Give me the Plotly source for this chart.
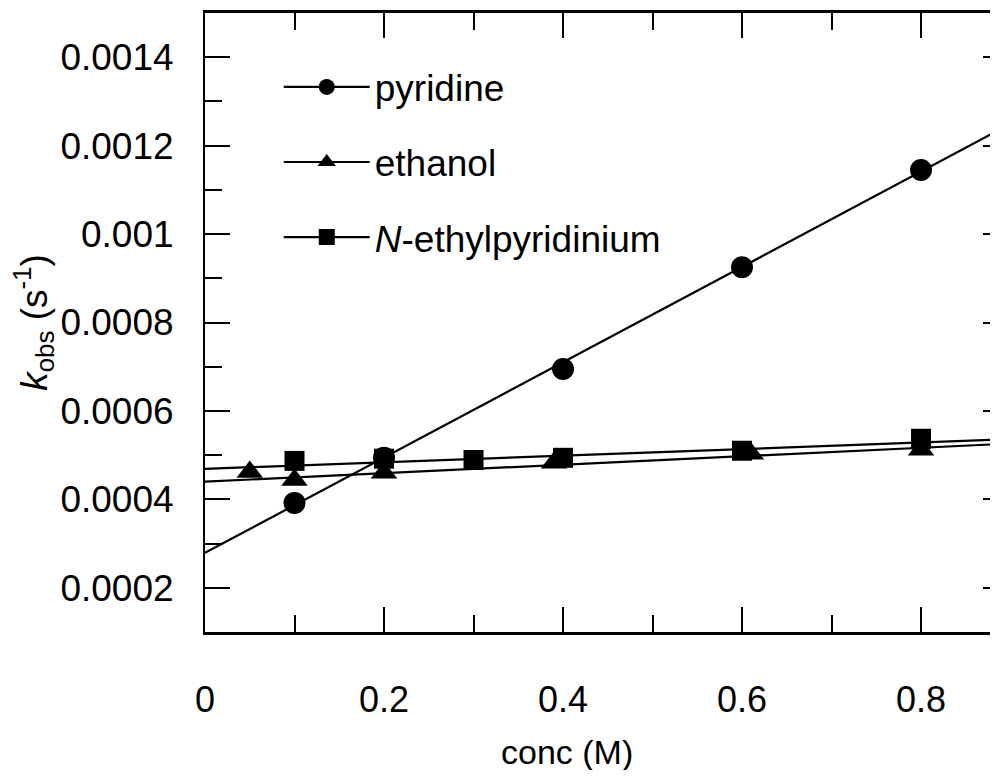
import plotly.graph_objects as go

# ---- data ----
pyr_x = [0.1, 0.2, 0.4, 0.6, 0.8]
pyr_y = [0.000392, 0.000494, 0.000695, 0.000925, 0.001145]

eth_x = [0.05, 0.1, 0.2, 0.39, 0.61, 0.8]
eth_y = [0.000462, 0.000444, 0.000460, 0.000483, 0.000503, 0.000512]

nep_x = [0.1, 0.2, 0.3, 0.4, 0.6, 0.8]
nep_y = [0.000487, 0.000492, 0.000489, 0.000494, 0.000510, 0.000537]

# linear fits (intercept, slope)
fit_intercept = {"pyridine": 0.000279, "ethanol": 0.000440, "nep": 0.000469}
fit_slope = {"pyridine": 0.001078, "ethanol": 0.0000959, "nep": 0.0000745}
fit_x = [0.0, 0.9]

series_names = ["pyridine", "ethanol", "<i>N</i>-ethylpyridinium"]
series_keys = ["pyridine", "ethanol", "nep"]

x_ticks = [0, 0.2, 0.4, 0.6, 0.8]
x_ticklabels = ["0", "0.2", "0.4", "0.6", "0.8"]
y_ticks = [0.0002, 0.0004, 0.0006, 0.0008, 0.001, 0.0012, 0.0014]
y_ticklabels = ["0.0002", "0.0004", "0.0006", "0.0008", "0.001", "0.0012", "0.0014"]

FONT = "Liberation Sans, Arial, sans-serif"

fig = go.Figure()

series = [
    (pyr_x, pyr_y, "circle", 22),
    (eth_x, eth_y, "triangle-up", 23),
    (nep_x, nep_y, "square", 20),
]

for name, key, (xs, ys, symbol, size) in zip(series_names, series_keys, series):
    b = fit_intercept[key]
    m = fit_slope[key]
    # fit line
    fig.add_trace(go.Scatter(
        x=fit_x, y=[b + m * v for v in fit_x], mode="lines",
        line=dict(color="black", width=2.2), showlegend=False,
        hoverinfo="skip", legendgroup=key))
    # data points
    fig.add_trace(go.Scatter(
        x=xs, y=ys, mode="markers", name=name, legendgroup=key,
        showlegend=False,
        marker=dict(symbol=symbol, size=size, color="black")))
    # legend entry (line + marker)
    fig.add_trace(go.Scatter(
        x=[None], y=[None], mode="lines+markers", name=name, legendgroup=key,
        line=dict(color="black", width=2.2),
        marker=dict(symbol=symbol, size=size, color="black")))

# page body has an 8px margin; size the figure so the page does not scroll
fig.update_layout(
    width=990, height=762,
    margin=dict(l=197, r=0, t=5, b=138),
    paper_bgcolor="white", plot_bgcolor="white",
    font=dict(family=FONT, color="black", size=37),
    showlegend=True,
    legend=dict(x=0.093, y=0.93, xanchor="left", yanchor="top",
                bgcolor="rgba(0,0,0,0)", font=dict(size=37, family=FONT),
                tracegroupgap=24, itemwidth=86),
    xaxis=dict(range=[0, 0.886], tickvals=x_ticks, ticktext=x_ticklabels,
               ticks="inside", ticklen=25, tickwidth=2, tickcolor="black",
               minor=dict(dtick=0.1, tick0=0, ticks="inside", ticklen=17,
                          tickwidth=2, tickcolor="black"),
               showline=True, linewidth=2.5, linecolor="black", mirror="ticks",
               showgrid=False, zeroline=False, automargin=False,
               ticklabelstandoff=34,
               tickfont=dict(size=36, family=FONT)),
    yaxis=dict(range=[0.0001, 0.0015], tickvals=y_ticks, ticktext=y_ticklabels,
               ticks="inside", ticklen=25, tickwidth=2, tickcolor="black",
               minor=dict(dtick=0.0001, tick0=0, ticks="inside", ticklen=17,
                          tickwidth=2, tickcolor="black"),
               showline=True, linewidth=2, linecolor="black", mirror=False,
               showgrid=False, zeroline=False, automargin=False,
               ticklabelstandoff=22,
               tickfont=dict(size=37, family=FONT),
               title=dict(text="<i>k</i><sub>obs</sub> (s<sup>-1</sup>)",
                          font=dict(size=37, family=FONT), standoff=10)),
    yaxis2=dict(range=[0.0001, 0.0015], overlaying="y", side="right",
                tickvals=y_ticks, showticklabels=False,
                ticks="inside", ticklen=15, tickwidth=2, tickcolor="black",
                minor=dict(dtick=0.0001, tick0=0, ticks="inside", ticklen=6,
                           tickwidth=2, tickcolor="black"),
                showline=False, showgrid=False, zeroline=False, automargin=False),
    annotations=[dict(text="conc (M)", xref="paper", yref="paper",
                      x=0.456, y=-0.194, xanchor="center", yanchor="middle",
                      showarrow=False, font=dict(size=34, family=FONT))],
)

# trace to activate the right-side tick axis
fig.add_trace(go.Scatter(x=fit_x, y=[None, None], yaxis="y2", showlegend=False,
                         hoverinfo="skip", mode="lines"))

fig.write_html("out.html")
